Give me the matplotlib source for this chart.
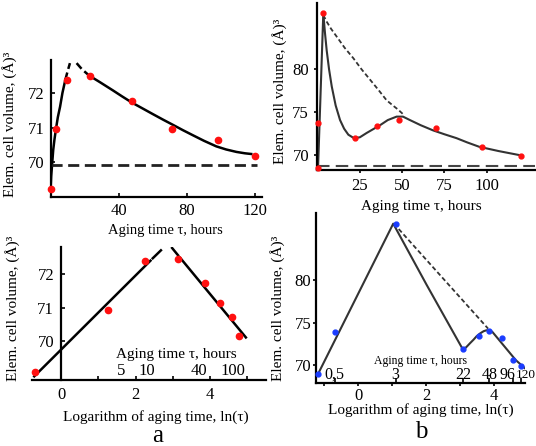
import numpy as np
import matplotlib.pyplot as plt

plt.rcParams['font.family'] = ['Liberation Serif', 'DejaVu Serif']

# ---- series a: measured cell volume vs aging time ----
tau_a = [0.5, 3.5, 9.5, 23, 48, 71, 98, 120]
vol_a = [69.22, 70.96, 72.38, 72.50, 71.76, 70.95, 70.64, 70.17]
vol_a_ln = [69.05, 70.92, 72.40, 72.45, 71.75, 71.13, 70.70, 70.15]
vol_a_inf = 69.93

# fitted curves of series a (linear time)
rise_tau = [0.1, 0.4, 0.8, 1.6, 2.3, 3.2, 4.3, 5.6, 7.0, 8.7]
rise_vol = [69.26, 69.60, 69.85, 70.36, 70.65, 70.96, 71.30, 71.60, 72.00, 72.38]
rise_ext_tau = [8.7, 10.0, 11.4]
rise_ext_vol = [72.38, 72.62, 72.86]
decay_ext_tau = [15.3, 18.5, 22.7]
decay_ext_vol = [72.86, 72.68, 72.50]
decay_tau = [22.7, 29, 36.7, 42, 47.8, 53, 60, 66, 71.8, 77.5, 83.5, 90, 97.2, 103, 109, 114, 117.7]
decay_vol = [72.50, 72.31, 72.07, 71.90, 71.72, 71.58, 71.39, 71.23, 71.08, 70.93,
             70.78, 70.62, 70.46, 70.37, 70.30, 70.26, 70.24]

# fitted lines of series a (log time)
up_ln = [-0.72, 2.40]
up_vol = [68.93, 72.41]
up_ext_ln = [2.46, 2.68]
up_ext_vol = [72.48, 72.72]
down_ext_ln = [2.98, 3.14]
down_ext_vol = [72.79, 72.57]
down_ln = [3.20, 4.96]
down_vol = [72.49, 70.10]

# ---- series b ----
tau_b = [0.3, 0.5, 3, 22, 35, 48, 70, 97, 120]
vol_b = [68.55, 73.8, 86.5, 72.0, 73.4, 74.1, 73.2, 70.95, 69.95]
vol_b_ln = [68.95, 73.85, 86.6, 71.9, 73.4, 74.0, 73.2, 70.6, 69.9]
vol_b_inf = 68.8

fit_b_tau = [0.3, 3.4, 4.4, 5.4, 6.8, 8.4, 10.7, 13.3, 15.7, 18.2, 21.5, 25, 29, 32.5,
             36.9, 41.5, 46.7, 50.5, 54.6, 61, 68.3, 75, 82.1, 88.5, 95.5, 107, 120.1]
fit_b_vol = [68.6, 86.5, 84.2, 82.2, 80.0, 78.0, 75.8, 74.1, 73.1, 72.4, 72.0, 72.1, 72.6, 73.0,
             73.5, 74.1, 74.5, 74.5, 74.1, 73.5, 72.9, 72.45, 72.0, 71.5, 71.0, 70.5, 70.0]
env_b_tau = [3.4, 5.5, 8.0, 11.3, 16, 21.1, 26, 31.0, 36, 40.8, 44.5, 47.7, 51.0]
env_b_vol = [86.3, 85.5, 84.7, 83.8, 82.5, 81.3, 80.0, 78.8, 77.6, 76.4, 75.8, 75.3, 74.7]

fit_b_ln = [-1.2, 1.03, 2.02, 3.08, 3.18, 3.3, 3.4, 3.49, 3.6, 3.7, 3.78, 3.83, 3.9, 3.96, 4.65, 4.92]
fit_b_ln_vol = [68.9, 86.6, 79.4, 71.9, 72.1, 72.6, 73.0, 73.4, 73.75, 74.0, 74.1, 74.1,
                74.05, 73.9, 70.6, 69.65]
env_b_ln = [1.05, 3.83]
env_b_ln_vol = [86.6, 74.3]

# secondary time labels on the log axes
hours_a = [5, 10, 40, 100]
hours_b = [0.5, 3, 22, 48, 96, 120]
hours_b_text = ['0,5', '3', '22', '48', '96', '120']

ylab = 'Elem. cell volume, (Å)³'
red = '#ff1010'
blue = '#1a3cff'

fig = plt.figure(figsize=(5.36, 4.46), dpi=100)
W, H = 536, 446


def add_ax(l, r, t, b):
    return fig.add_axes([l / W, (H - b) / H, (r - l) / W, (b - t) / H])


def clean(ax):
    for s in ['top', 'right']:
        ax.spines[s].set_visible(False)
    for s in ['left', 'bottom']:
        ax.spines[s].set_linewidth(1.6)
    ax.tick_params(labelsize=12, width=1.2)


# top left: volume vs aging time
ax1 = add_ax(50.5, 262, 60, 197)
clean(ax1)
ax1.plot(rise_tau, rise_vol, color='black', lw=1.8)
ax1.plot(rise_ext_tau, rise_ext_vol, color='black', lw=1.8, ls=(0, (3, 1.5)))
ax1.plot(decay_ext_tau, decay_ext_vol, color='black', lw=1.8, ls=(0, (3, 1.5)))
ax1.plot(decay_tau, decay_vol, color='black', lw=1.8)
ax1.hlines(vol_a_inf, 0, 121, color='#222222', lw=2, linestyles=(0, (4, 2)))
ax1.plot(tau_a, vol_a, 'o', color=red, ms=4.5, clip_on=False, zorder=5)
ax1.set_xlim(0, 124)
ax1.set_ylim(69.0, 72.95)
ax1.set_xticks([40, 80, 120])
ax1.set_yticks([70, 71, 72])
ax1.tick_params(direction='in', length=3, pad=4)
ax1.set_xlabel('Aging time τ, hours', fontsize=10.5)
ax1.xaxis.set_label_coords(0.541, -0.2)
ax1.set_ylabel(ylab, fontsize=11)
ax1.yaxis.set_label_coords(-0.158, 0.533)

# top right
ax2 = add_ax(316.7, 535, 3, 170)
clean(ax2)
ax2.plot(fit_b_tau, fit_b_vol, color='#333333', lw=1.5)
ax2.plot(env_b_tau, env_b_vol, color='#333333', lw=1.3, ls=(0, (2.5, 1.5)))
ax2.axhline(vol_b_inf, color='#444444', lw=1.5, ls=(0, (6, 3)))
ax2.plot(tau_b, vol_b, 'o', color=red, ms=3.5, clip_on=False, zorder=5)
ax2.set_xlim(-0.5, 128.5)
ax2.set_ylim(68.3, 87.7)
ax2.set_xticks([25, 50, 75, 100])
ax2.set_yticks([70, 75, 80])
ax2.tick_params(direction='out', length=2.5, pad=3)
ax2.set_xlabel('Aging time τ, hours', fontsize=11)
ax2.xaxis.set_label_coords(0.478, -0.18)
ax2.set_ylabel(ylab, fontsize=11)
ax2.yaxis.set_label_coords(-0.136, 0.473)

# bottom left: log time
ax3 = add_ax(32, 266, 247, 380)
clean(ax3)
ax3.spines['left'].set_position(('data', 0))
ax3.plot(up_ln, up_vol, color='black', lw=1.8)
ax3.plot(up_ext_ln, up_ext_vol, color='black', lw=1.8)
ax3.plot(down_ext_ln, down_ext_vol, color='black', lw=1.8)
ax3.plot(down_ln, down_vol, color='black', lw=1.8)
ax3.plot(np.log(tau_a), vol_a_ln, 'o', color=red, ms=4.5, clip_on=False, zorder=5)
ax3.set_xlim(-0.78, 5.5)
ax3.set_ylim(68.82, 72.82)
ax3.set_xticks(range(0, 6))
ax3.set_xticklabels(['0', '', '2', '', '4', ''])
ax3.set_yticks([70, 71, 72])
ax3.tick_params(direction='in', length=3)
ax3.tick_params(axis='x', pad=5)
ax3.tick_params(axis='y', pad=5)
xt3 = ax3.get_xaxis_transform()
for h in hours_a:
    ax3.text(np.log(h), 0.07, str(h), transform=xt3, ha='center', va='center', fontsize=12)
ax3.text(0.6175, 0.195, 'Aging time τ, hours', transform=ax3.transAxes,
         ha='center', va='center', fontsize=11)
ax3.set_xlabel('Logarithm of aging time, ln(τ)', fontsize=11)
ax3.xaxis.set_label_coords(0.53, -0.225)
ax3.set_ylabel(ylab, fontsize=11)
ax3.yaxis.set_label_coords(-0.051, 0.54)

# bottom right: log time
ax4 = add_ax(316, 525, 213, 382.7)
clean(ax4)
ax4.plot(fit_b_ln, fit_b_ln_vol, color='#333333', lw=1.5)
ax4.plot(env_b_ln, env_b_ln_vol, color='#333333', lw=1.3, ls=(0, (2.5, 1.5)))
ax4.plot(np.log(tau_b), vol_b_ln, 'o', color=blue, ms=3.5, clip_on=False, zorder=5)
ax4.set_xlim(-1.25, 4.92)
ax4.set_ylim(67.96, 87.85)
ax4.set_xticks(range(-1, 5))
ax4.set_xticklabels(['', '0', '', '2', '', '4'])
ax4.set_yticks([70, 75, 80])
ax4.tick_params(direction='out', length=2.5, pad=1)
xt4 = ax4.get_xaxis_transform()
ax4.vlines(np.log(hours_b), 0, 0.03, transform=xt4, color='black', lw=1.2)
for h, s in zip(hours_b[:-1], hours_b_text[:-1]):
    shift = -0.15 if h == 96 else 0.0
    ax4.text(np.log(h) + shift, 0.048, s, transform=xt4, ha='center', va='center',
             fontsize=11.5)
# last label sits against the figure edge, starting at its tick
ax4.text(np.log(hours_b[-1]) - 0.15, 0.048, hours_b_text[-1], transform=xt4,
         ha='left', va='center', fontsize=9.5, clip_on=False)
ax4.text(0.498, 0.13, 'Aging time τ, hours', transform=ax4.transAxes,
         ha='center', va='center', fontsize=8.5)
ax4.set_xlabel('Logarithm of aging time, ln(τ)', fontsize=11)
ax4.xaxis.set_label_coords(0.502, -0.12)
ax4.set_ylabel(ylab, fontsize=11)
ax4.yaxis.set_label_coords(-0.148, 0.44)

fig.text(158 / W, 1 - 436 / H, 'a', ha='center', va='center', fontsize=18)
fig.text(421.7 / W, 1 - 432 / H, 'b', ha='center', va='center', fontsize=18)

fig.savefig('out.png', dpi=100)
